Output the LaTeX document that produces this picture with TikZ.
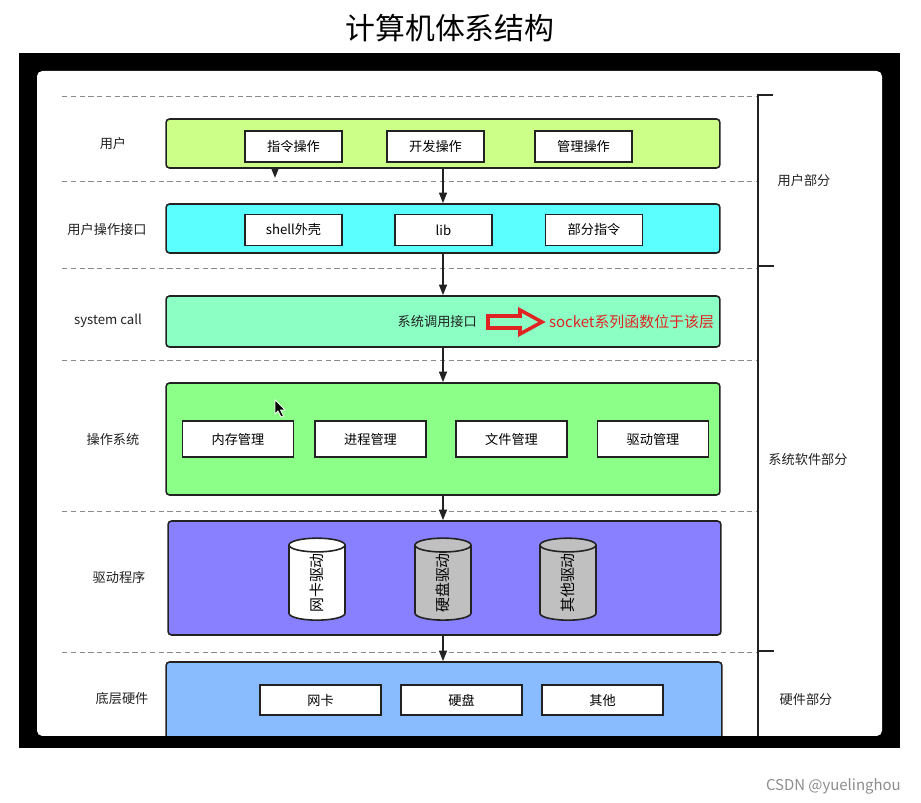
\documentclass[tikz,border=0pt]{standalone}
\usepackage{fontspec}
\setmainfont{Noto Sans CJK SC}
\usetikzlibrary{arrows.meta, positioning, shapes.geometric}
\definecolor{layeruser}{HTML}{CCFF88}
\definecolor{layerapi}{HTML}{5CFFFF}
\definecolor{layercall}{HTML}{8CFFC4}
\definecolor{layeros}{HTML}{8CFF88}
\definecolor{layerdrv}{HTML}{8880FF}
\definecolor{layerhw}{HTML}{88BBFF}
\definecolor{inkline}{HTML}{222222}
\definecolor{sepgray}{HTML}{8A8A8A}
\definecolor{calltext}{HTML}{E02424}
\definecolor{drumgray}{HTML}{C0C0C0}
\newcommand{\body}{\fontsize{7.5}{9}\selectfont}

\begin{document}
\begin{tikzpicture}[
  x=0.02cm, y=-0.02cm,
  layer/.style={draw=inkline, line width=0.9pt, rounded corners=2pt, minimum width=11.08cm, inner sep=0pt},
  opbox/.style={draw=inkline, fill=white, line width=0.9pt, minimum width=1.94cm, minimum height=0.62cm, inner sep=0pt, font=\body},
  mgrbox/.style={opbox, minimum width=2.22cm, minimum height=0.72cm},
  hwbox/.style={opbox, minimum width=2.42cm, minimum height=0.6cm},
  drum/.style={cylinder, rotate=90, draw=inkline, line width=0.9pt, aspect=1, minimum width=1.12cm, minimum height=1.64cm, inner sep=0pt, font=\fontsize{8.5}{10}\selectfont},
  lbl/.style={font=\body, text=inkline},
  flow/.style={-{Triangle[length=6pt, width=4.5pt]}, line width=0.9pt, inkline},
  sep/.style={dashed, sepgray, line width=0.5pt, dash pattern=on 3pt off 2pt}
]
\useasboundingbox (0,0) rectangle (921,803);

% frame
\fill[black] (19,53) rectangle (900,748);
\fill[white, rounded corners=3pt] (37,71) rectangle (882,736);
\node[font=\fontsize{17}{20}\selectfont] (title) at (450,28) {计算机体系结构};

% separators
\foreach \yy in {96,181,268,360,511,652}
  \draw[sep] (62,\yy) -- (757,\yy);

% layers
\node[layer, fill=layeruser, minimum height=0.98cm] (user) at (443,143.5) {};
\node[layer, fill=layerapi, minimum height=0.98cm] (api) at (443,228.5) {};
\node[layer, fill=layercall, minimum height=1.02cm] (call) at (443,321.5) {};
\node[layer, fill=layeros, minimum height=2.24cm] (os) at (443,439) {};
\node[layer, fill=layerdrv, minimum width=11.06cm, minimum height=2.28cm] (drv) at (444.5,578) {};
\node[layer, fill=layerhw, minimum width=11.12cm, minimum height=1.66cm] (hw) at (444,703.5) {};

% user
\node[opbox] (cmdop) at (293.5,146.5) {指令操作};
\node[opbox] (devop) at (435.5,146.5) {开发操作};
\node[opbox] (mgmtop) at (583.5,146.5) {管理操作};

% user interface
\node[opbox] (shell) at (293.5,230) {shell外壳};
\node[opbox] (lib) at (443.5,230) {lib};
\node[opbox] (partcmd) at (594,230) {部分指令};

% system call
\node[lbl, anchor=east] (callif) at (483,322) {系统调用接口};
\node[anchor=west, text=calltext, font=\fontsize{8.5}{10}\selectfont] (socket) at (543,322) {socket系列函数位于该层};
\draw[calltext, line width=2pt, fill=layercall, line join=miter]
  (488,316) -- (520,316) -- (520,310) -- (542,322) -- (520,334) -- (520,328) -- (488,328) -- cycle;

% operating system
\node[mgrbox] (mem) at (238,439) {内存管理};
\node[mgrbox] (proc) at (370.5,439) {进程管理};
\node[mgrbox] (file) at (511.5,439) {文件管理};
\node[mgrbox] (drvmgr) at (653,439) {驱动管理};
\fill[black, draw=white, line width=0.4pt]
  (275,400) -- (275,414) -- (278,411) -- (281,417) -- (283.5,416) -- (280.5,410) -- (285,410) -- cycle;

% drivers
\node[drum, fill=white] (nicdrv) at (317,583) {网卡驱动};
\node[drum, fill=drumgray] (diskdrv) at (443,583) {硬盘驱动};
\node[drum, fill=drumgray] (otherdrv) at (568,583) {其他驱动};

% hardware
\node[hwbox] (nic) at (320.5,700) {网卡};
\node[hwbox] (disk) at (461.5,700) {硬盘};
\node[hwbox] (other) at (602.5,700) {其他};
\fill[black] (19,736) rectangle (900,748);

% arrows
\coordinate (stray) at (275,178);
\draw[flow] (user.south -| stray) -- (stray);
\draw[flow] (user.south) -- (api.north);
\draw[flow] (api.south) -- (call.north);
\draw[flow] (call.south) -- (os.north);
\draw[flow] (os.south) -- (os.south |- drv.north);
\draw[flow] (os.south |- drv.south) -- (os.south |- hw.north);

% left labels
\node[lbl] (lyuser) at (113,144) {用户};
\node[lbl] (lyapi) at (107,230) {用户操作接口};
\node[lbl] (lycall) at (108,321) {system call};
\node[lbl] (lyos) at (113,439) {操作系统};
\node[lbl] (lydrv) at (119,577) {驱动程序};
\node[lbl] (lyhw) at (122,699) {底层硬件};

% right bracket
\draw[inkline, line width=1.2pt] (773,95) -- (758,95) -- (758,736);
\draw[inkline, line width=1.2pt] (758,266) -- (774,266);
\draw[inkline, line width=1.2pt] (758,651) -- (774,651);
\node[lbl] (partuser) at (804,181) {用户部分};
\node[lbl] (partsys) at (808,459) {系统软件部分};
\node[lbl] (parthw) at (806,699) {硬件部分};

\node[anchor=east, text=black!45, font=\fontsize{8.5}{10}\selectfont] (mark) at (907,786) {CSDN @yuelinghou};
\end{tikzpicture}
\end{document}
